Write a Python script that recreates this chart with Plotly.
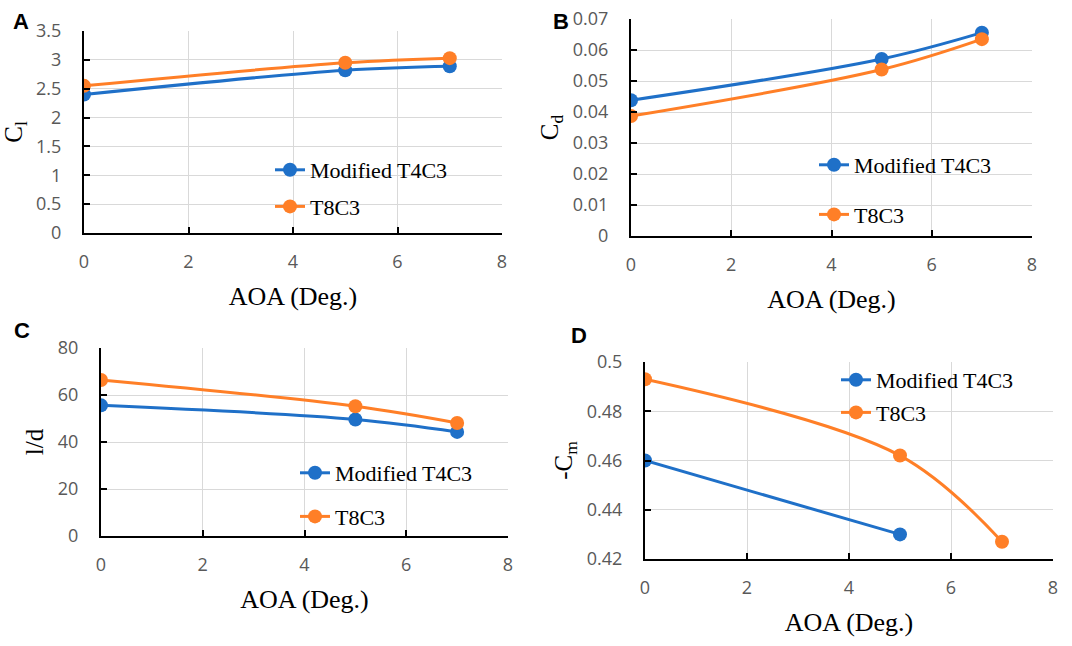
import plotly.graph_objects as go

aoa = [0, 5, 7]
aoa_cm_t4 = [0, 5]

cl_t4 = [2.40, 2.82, 2.89]
cl_t8 = [2.55, 2.95, 3.03]
cd_t4 = [0.0438, 0.0571, 0.0656]
cd_t8 = [0.0387, 0.0537, 0.0635]
ld_t4 = [55.6, 49.6, 44.3]
ld_t8 = [66.4, 55.2, 48.1]
cm_t4 = [0.460, 0.430]
cm_t8 = [0.493, 0.462, 0.427]

names = ["Modified T4C3", "T8C3"]
BLUE = "#1f70c8"
ORANGE = "#ff7f27"
W, H = 1072, 646
SERIF = "Liberation Serif"

fig = go.Figure()

panels = [
    ("", aoa, cl_t4, aoa, cl_t8, (84, 502, 31, 233), [0, 3.5], 0.5, "C<sub>l</sub>", "legend"),
    ("2", aoa, cd_t4, aoa, cd_t8, (631, 1032, 19, 236), [0, 0.07], 0.01, "C<sub>d</sub>", "legend2"),
    ("3", aoa, ld_t4, aoa, ld_t8, (101, 508, 348, 536), [0, 80], 20, "l/d", "legend3"),
    ("4", aoa_cm_t4, cm_t4, aoa, cm_t8, (645, 1053, 362, 559), [0.42, 0.5], 0.02, "-C<sub>m</sub>", "legend4"),
]

layout = {}
for i, (k, x1s, y1s, x2s, y2s, box, yr, dt, ytitle, leg) in enumerate(panels):
    x0, x1, yt, yb = box
    xa = "xaxis" + k
    ya = "yaxis" + k
    for j, (xs, ys, col) in enumerate([(x1s, y1s, BLUE), (x2s, y2s, ORANGE)]):
        fig.add_trace(go.Scatter(
            x=xs, y=ys,
            name=f"<span style='font-family:Liberation Serif'>{names[j]}</span>",
            mode="lines+markers",
            line=dict(color=col, width=3, shape="spline", smoothing=1),
            marker=dict(color=col, size=14),
            xaxis="x" + k, yaxis="y" + k, legend=leg,
            legendgroup=f"{leg}_{j}",
        ))
    layout[xa] = dict(
        domain=[x0 / W, x1 / W], anchor="y" + k, range=[0, 8], dtick=2,
        showgrid=True, gridcolor="#d9d9d9", gridwidth=1.3,
        showline=True, linecolor="black", linewidth=2,
        ticks="inside", ticklen=6, tickcolor="black", tickwidth=2,
        ticklabelstandoff=11, automargin=False,
        tickfont=dict(family="Open Sans", size=18, color="#595959"),
        zeroline=False,
        title=dict(text="AOA (Deg.)", font=dict(family=SERIF, size=26, color="black"), standoff=15),
    )
    layout[ya] = dict(
        domain=[1 - yb / H, 1 - yt / H], anchor="x" + k, range=yr, dtick=dt,
        showgrid=True, gridcolor="#d9d9d9", gridwidth=1.3,
        showline=True, linecolor="black", linewidth=2,
        ticks="inside", ticklen=6, tickcolor="black", tickwidth=2,
        ticklabelstandoff=17, automargin=False,
        tickfont=dict(family="Open Sans", size=18, color="#595959"),
        zeroline=False,
        title=dict(text=ytitle, font=dict(family=SERIF, size=25, color="black"), standoff=7),
    )

def legend_cfg(xpx, ypx, gap):
    return dict(font=dict(family=SERIF, size=22, color="black"),
                bgcolor="rgba(0,0,0,0)", xanchor="left", yanchor="top",
                itemsizing="trace", x=xpx / W, y=1 - ypx / H, tracegroupgap=gap)

layout["legend"] = legend_cfg(270, 149, 5)
layout["legend2"] = legend_cfg(814, 144, 18)
layout["legend3"] = legend_cfg(295, 452, 12)
layout["legend4"] = legend_cfg(836, 359, 1)

labels = [("A", 11, 22), ("B", 551, 21), ("C", 12, 330), ("D", 569, 335)]
annotations = [dict(text="<b>" + t + "</b>", x=px / W, y=1 - py / H, xref="paper", yref="paper",
                    xanchor="left", yanchor="middle", showarrow=False,
                    font=dict(family="Liberation Sans", size=22, color="black"))
               for t, px, py in labels]

fig.update_layout(
    width=W, height=H, margin=dict(l=0, r=0, t=0, b=0, autoexpand=False),
    paper_bgcolor="white", plot_bgcolor="white",
    font=dict(family=SERIF),
    showlegend=True, annotations=annotations, **layout,
)

fig.write_html("out.html")
